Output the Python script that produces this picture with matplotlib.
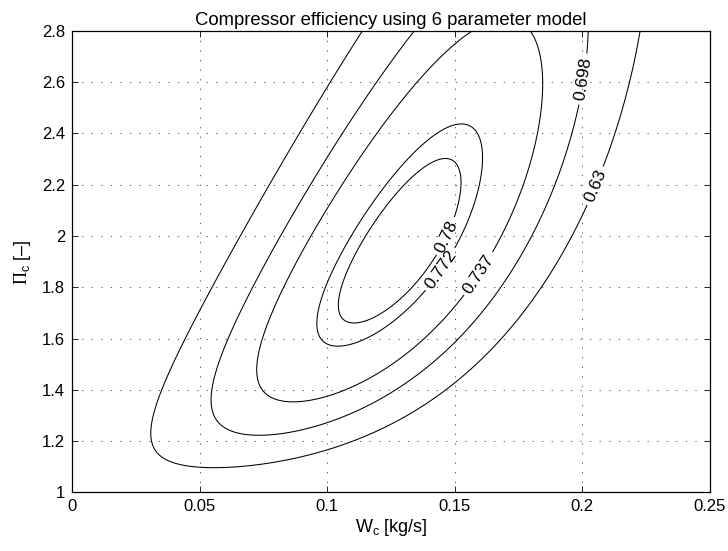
import numpy as np
import matplotlib
matplotlib.use("Agg")
import matplotlib.pyplot as plt

# 6 parameter compressor efficiency model
# eta = eta_max - x' Q x,  x = [Wc - W_opt, sqrt(Pi_c - 1) - pi_opt]
eta_max = 0.7897
W_opt = 0.1284
pi_opt = 0.977
Q11, Q12, Q22 = 37.78, -4.124, 0.8102

levels = [0.63, 0.698, 0.737, 0.772, 0.78]
level_labels = ["0.63", "0.698", "0.737", "0.772", "0.78"]
label_pos = [(0.204, 2.20), (0.2014, 2.61), (0.159, 1.855), (0.1438, 1.874), (0.1464, 2.0)]

xticks = [0, 0.05, 0.1, 0.15, 0.2, 0.25]
xticklabels = ["0", "0.05", "0.1", "0.15", "0.2", "0.25"]
yticks = [1, 1.2, 1.4, 1.6, 1.8, 2, 2.2, 2.4, 2.6, 2.8]
yticklabels = ["1", "1.2", "1.4", "1.6", "1.8", "2", "2.2", "2.4", "2.6", "2.8"]

plt.rcParams["font.family"] = ["Liberation Sans", "DejaVu Sans"]
plt.rcParams["mathtext.fontset"] = "custom"
plt.rcParams["mathtext.rm"] = "Liberation Serif"
plt.rcParams["mathtext.sf"] = "Liberation Sans"


def efficiency(w, p):
    dw = w - W_opt
    dp = np.sqrt(p - 1) - pi_opt
    return eta_max - (Q11 * dw**2 + 2 * Q12 * dw * dp + Q22 * dp**2)


fig = plt.figure(figsize=(7.28, 5.51), dpi=100)
ax = fig.add_axes([0.0989, 0.1062, 0.8764, 0.8379])

W, P = np.meshgrid(np.linspace(0, 0.25, 400), np.linspace(1, 2.8, 400))
E = efficiency(W, P)
for lev, txt, pos in zip(levels, level_labels, label_pos):
    cs = ax.contour(W, P, E, levels=[lev], colors="k", linewidths=0.75)
    cs.clabel(manual=[pos], fmt={lev: txt}, fontsize=12.5, inline=True,
              inline_spacing=4, colors="k")

ax.set_xlim(0, 0.25)
ax.set_ylim(1, 2.8)
ax.set_xticks(xticks)
ax.set_xticklabels(xticklabels)
ax.set_yticks(yticks)
ax.set_yticklabels(yticklabels)
ax.tick_params(direction="in", length=4, width=0.6, top=True, right=True,
               labelsize=12, pad=5)
ax.grid(True, color="0.25", linestyle=(0, (1.5, 10)), linewidth=0.6)
for s in ax.spines.values():
    s.set_linewidth(0.9)

ax.set_title("Compressor efficiency using 6 parameter model", fontsize=13.3, pad=4)
ax.set_xlabel(r"W$_{\mathsf{c}}$ [kg/s]", fontsize=13, labelpad=2)
ax.set_ylabel(r"$\Pi_{\mathsf{c}}$ [–]", fontsize=13, labelpad=6)

fig.savefig("out.png", dpi=100)
